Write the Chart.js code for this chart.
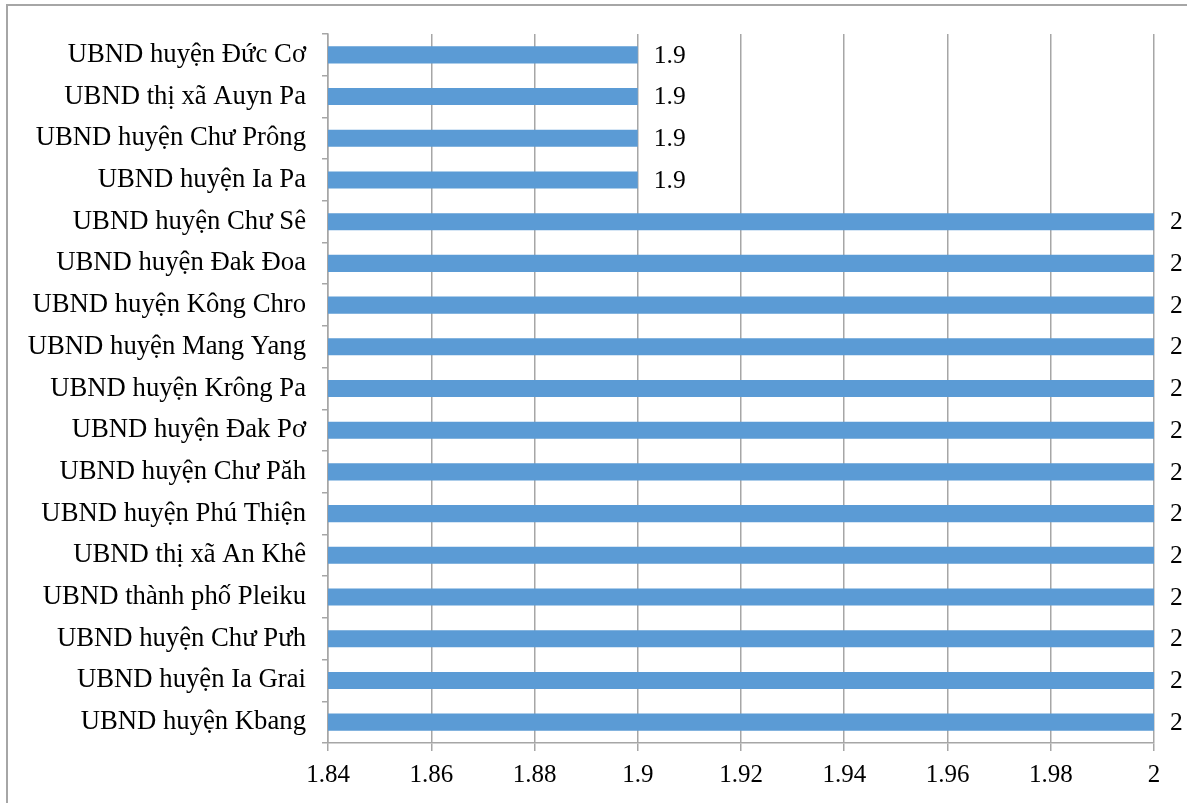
<!DOCTYPE html>
<html>
<head>
<meta charset="utf-8">
<script src="https://cdn.jsdelivr.net/npm/chart.js@4.4.1/dist/chart.umd.min.js"></script>
<style>
  html, body { margin: 0; padding: 0; background: #fff; overflow: hidden; }
  #wrap { position: relative; width: 1187px; height: 803px; }
  #frame { position: absolute; left: 6px; top: 4px; width: 1300px; height: 900px; border: 2px solid #a6a6a6; box-sizing: border-box; pointer-events: none; }
  canvas { position: absolute; left: 0; top: 0; }
</style>
</head>
<body>
<div id="wrap">
  <canvas id="c" width="1187" height="803"></canvas>
  <div id="frame"></div>
</div>
<script>
const categories = [
  'UBND huyện Đức Cơ',
  'UBND thị xã Auyn Pa',
  'UBND huyện Chư Prông',
  'UBND huyện Ia Pa',
  'UBND huyện Chư Sê',
  'UBND huyện Đak Đoa',
  'UBND huyện Kông Chro',
  'UBND huyện Mang Yang',
  'UBND huyện Krông Pa',
  'UBND huyện Đak Pơ',
  'UBND huyện Chư Păh',
  'UBND huyện Phú Thiện',
  'UBND thị xã An Khê',
  'UBND thành phố Pleiku',
  'UBND huyện Chư Pưh',
  'UBND huyện Ia Grai',
  'UBND huyện Kbang'
];
const values = [1.9, 1.9, 1.9, 1.9, 2, 2, 2, 2, 2, 2, 2, 2, 2, 2, 2, 2, 2];
const valueLabels = ['1.9', '1.9', '1.9', '1.9', '2', '2', '2', '2', '2', '2', '2', '2', '2', '2', '2', '2', '2'];
const xTickLabels = ['1.84', '1.86', '1.88', '1.9', '1.92', '1.94', '1.96', '1.98', '2'];

const FONT = "'Liberation Serif', 'Times New Roman', serif";

const dataLabels = {
  id: 'dataLabels',
  afterDatasetsDraw(chart) {
    const ctx = chart.ctx;
    const meta = chart.getDatasetMeta(0);
    ctx.save();
    ctx.fillStyle = '#000';
    ctx.font = '25.5px ' + FONT;
    ctx.textAlign = 'left';
    ctx.textBaseline = 'middle';
    meta.data.forEach((bar, i) => {
      ctx.fillText(valueLabels[i], bar.x + 16, bar.y + 1);
    });
    ctx.restore();
  }
};

new Chart(document.getElementById('c'), {
  type: 'bar',
  data: {
    labels: categories,
    datasets: [{
      data: values,
      backgroundColor: '#5B9BD5',
      borderWidth: 0,
      barPercentage: 0.41,
      categoryPercentage: 1.0
    }]
  },
  plugins: [dataLabels],
  options: {
    indexAxis: 'y',
    responsive: false,
    animation: false,
    layout: { padding: { left: 0, right: 33, top: 34, bottom: 0 } },
    plugins: {
      legend: { display: false },
      tooltip: { enabled: false }
    },
    scales: {
      x: {
        min: 1.84,
        max: 2,
        afterFit(scale) { scale.height = 60; },
        ticks: {
          stepSize: 0.02,
          color: '#000',
          font: { family: FONT, size: 25 },
          padding: 9,
          maxRotation: 0,
          callback: (v, i) => xTickLabels[i]
        },
        grid: {
          color: '#a6a6a6',
          lineWidth: 1.5,
          tickLength: 8,
          drawOnChartArea: true
        },
        border: { display: true, color: '#a6a6a6', width: 1.5 }
      },
      y: {
        afterFit(scale) { scale.width = 328; },
        ticks: {
          color: '#000',
          font: { family: FONT, size: 26.7 },
          padding: 16,
          autoSkip: false
        },
        grid: {
          drawOnChartArea: false,
          drawTicks: true,
          tickLength: 6,
          color: '#a6a6a6',
          lineWidth: 1.5,
          offset: true
        },
        border: { display: true, color: '#a6a6a6', width: 1.5 }
      }
    }
  }
});
</script>
</body>
</html>
